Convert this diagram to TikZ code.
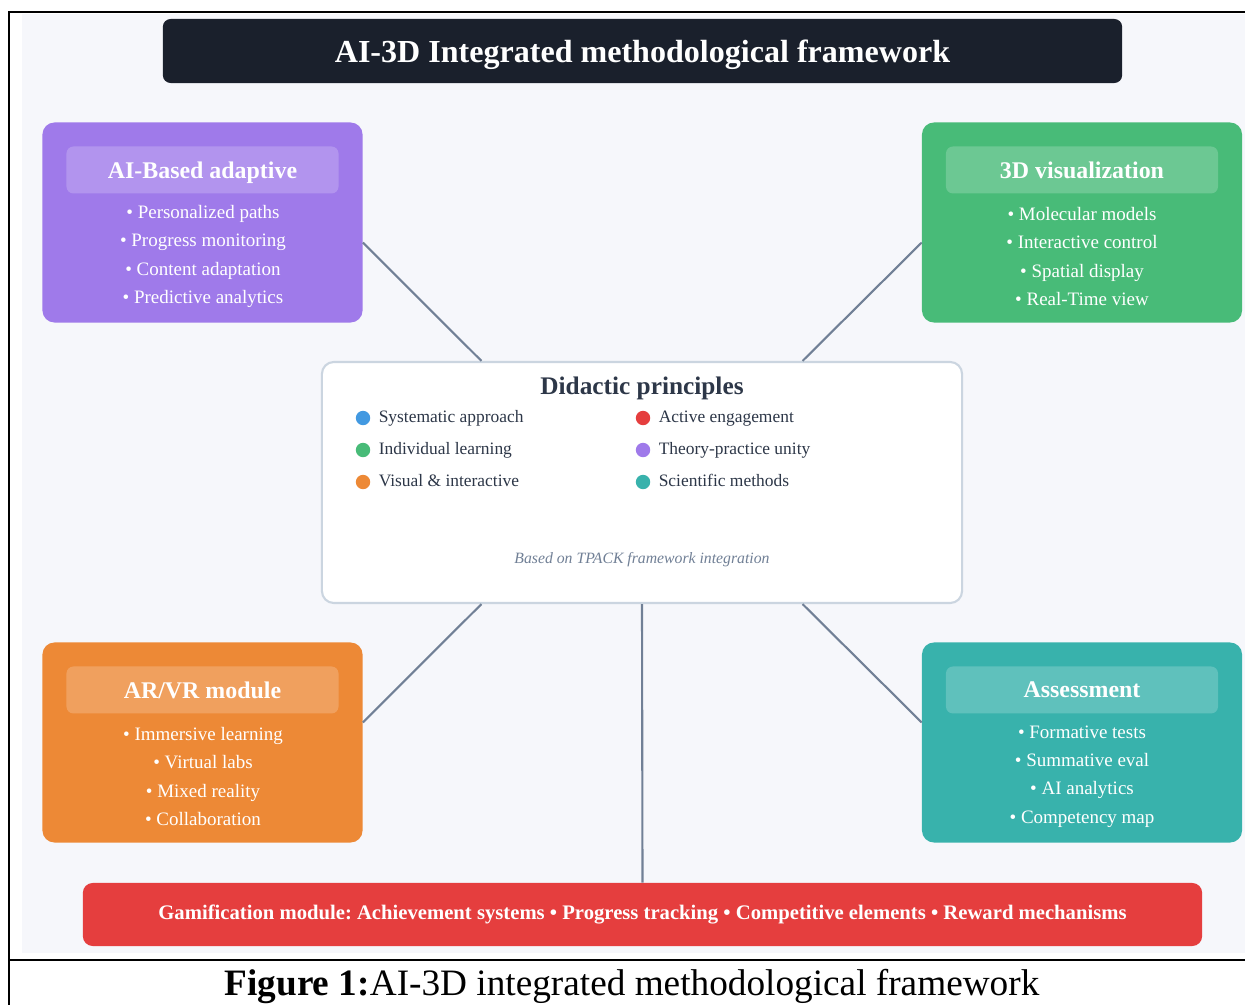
\documentclass[tikz,border=0pt]{standalone}
\usepackage{fontspec}
\setmainfont{Liberation Serif}
\definecolor{fwbg}{RGB}{246,247,251}
\definecolor{fwdark}{RGB}{26,32,44}
\definecolor{fwtext}{RGB}{45,55,72}
\definecolor{fwgray}{RGB}{113,128,150}
\definecolor{fwedge}{RGB}{203,213,224}
\definecolor{fwpurple}{RGB}{159,122,234}
\definecolor{fwgreen}{RGB}{72,187,120}
\definecolor{fworange}{RGB}{237,137,54}
\definecolor{fwteal}{RGB}{56,178,172}
\definecolor{fwred}{RGB}{229,62,62}
\definecolor{fwblue}{RGB}{66,153,225}
\usetikzlibrary{positioning,calc}
\tikzset{
  modbox/.style={rounded corners=8.5pt, minimum width=8cm, minimum height=5cm, inner sep=0pt},
  modhead/.style={rounded corners=5pt, fill=white, fill opacity=0.2, text opacity=1, text=white,
    font=\fontsize{17}{20}\selectfont\bfseries, minimum width=6.8cm, minimum height=1.175cm,
    inner sep=0pt, text depth=0pt},
  moditems/.style={text=white, align=center, font=\fontsize{13.5}{20.2}\selectfont, inner sep=0pt},
  pdot/.style={circle, inner sep=0pt, minimum size=0.36cm},
  ptext/.style={text=fwtext, font=\fontsize{12.4}{14}\selectfont, inner sep=0pt,
    text height=1.3ex, text depth=0pt, right=0.2cm of #1},
  link/.style={draw=fwgray, line width=1.5pt}
}
\begin{document}
\frenchspacing
\begin{tikzpicture}[x=0.025cm,y=-0.025cm]
\useasboundingbox (0,0) rectangle (1245,1005);
% page frame and background
\fill[fwbg] (22,14) rectangle (1245,953);
\draw[line width=1.4pt] (1245,12) -- (9,12) -- (9,1005);
\draw[line width=1.4pt] (9,960) -- (1245,960);

% Title bar
\node[fill=fwdark, rounded corners=5.5pt, minimum width=23.975cm, minimum height=1.6cm,
      text=white, font=\fontsize{22.8}{26}\selectfont\bfseries, text depth=0pt]
      (title) at (642.5,51) {AI-3D Integrated methodological framework};

% Purple box - AI-based adaptive
\node[modbox, fill=fwpurple] (ai) at (202.5,222.5) {};
\node[modhead, below=0.6cm of ai.north] (aihead) {AI-Based adaptive};
\node[moditems] (aiitems) at (203,256.5) {\textbullet{} Personalized paths\\
      \textbullet{} Progress monitoring\\ \textbullet{} Content adaptation\\
      \textbullet{} Predictive analytics};

% Green box - 3D visualization
\node[modbox, fill=fwgreen] (viz) at (1082,222.5) {};
\node[modhead, below=0.6cm of viz.north] (vizhead) {3D visualization};
\node[moditems] (vizitems) at (1082,256.5) {\textbullet{} Molecular models\\
      \textbullet{} Interactive control\\ \textbullet{} Spatial display\\
      \textbullet{} Real-Time view};

% Orange box - AR/VR
\node[modbox, fill=fworange] (arvr) at (202.5,742.5) {};
\node[modhead, below=0.6cm of arvr.north] (arvrhead) {AR/VR module};
\node[moditems] (arvritems) at (203,776.5) {\textbullet{} Immersive learning\\
      \textbullet{} Virtual labs\\ \textbullet{} Mixed reality\\
      \textbullet{} Collaboration};

% Teal box - assessment
\node[modbox, fill=fwteal] (assess) at (1082,742.5) {};
\node[modhead, below=0.6cm of assess.north] (assesshead) {Assessment};
\node[moditems] (assessitems) at (1082,776.5) {\textbullet{} Formative tests\\
      \textbullet{} Summative eval\\ \textbullet{} AI analytics\\
      \textbullet{} Competency map};

% Red bar - gamification
\node[fill=fwred, rounded corners=7pt, minimum width=27.975cm, minimum height=1.575cm,
      text=white, font=\fontsize{14.7}{16}\selectfont\bfseries]
      (gami) at (642.5,914.5) {Gamification module: Achievement systems \textbullet{} Progress tracking
      \textbullet{} Competitive elements \textbullet{} Reward mechanisms};

% Centre box - didactic principles
\node[draw=fwedge, line width=1.5pt, fill=white, rounded corners=8.5pt,
      minimum width=16cm, minimum height=6.025cm] (didac) at (642,482.5) {};
\node[text=fwtext, font=\fontsize{18}{20}\selectfont\bfseries] (didtitle) at (642,388) {Didactic principles};
\node[pdot, fill=fwblue] (d1) at (363,418) {};
\node[ptext=d1] (p1) {Systematic approach};
\node[pdot, fill=fwgreen] (d2) at (363,450) {};
\node[ptext=d2] (p2) {Individual learning};
\node[pdot, fill=fworange] (d3) at (363,482) {};
\node[ptext=d3] (p3) {Visual \& interactive};
\node[pdot, fill=fwred] (d4) at (643,418) {};
\node[ptext=d4] (p4) {Active engagement};
\node[pdot, fill=fwpurple] (d5) at (643,450) {};
\node[ptext=d5] (p5) {Theory-practice unity};
\node[pdot, fill=fwteal] (d6) at (643,482) {};
\node[ptext=d6] (p6) {Scientific methods};
\node[text=fwgray, font=\fontsize{11.2}{13}\selectfont\itshape] (tpack) at (642,559.5)
      {Based on TPACK framework integration};

% connectors
\draw[link] ($(ai.north east)!0.6!(ai.south east)$) -- ($(didac.north west)!0.25!(didac.north east)$);
\draw[link] ($(viz.north west)!0.6!(viz.south west)$) -- ($(didac.north east)!0.25!(didac.north west)$);
\draw[link] ($(arvr.south east)!0.6!(arvr.north east)$) -- ($(didac.south west)!0.25!(didac.south east)$);
\draw[link] ($(assess.south west)!0.6!(assess.north west)$) -- ($(didac.south east)!0.25!(didac.south west)$);
\draw[link] (didac.south) -- (gami.north);

% caption
\node[anchor=base, font=\fontsize{26.5}{30}\selectfont] (caption) at (632,995)
      {\textbf{Figure 1:}AI-3D integrated methodological framework};
\end{tikzpicture}
\end{document}
